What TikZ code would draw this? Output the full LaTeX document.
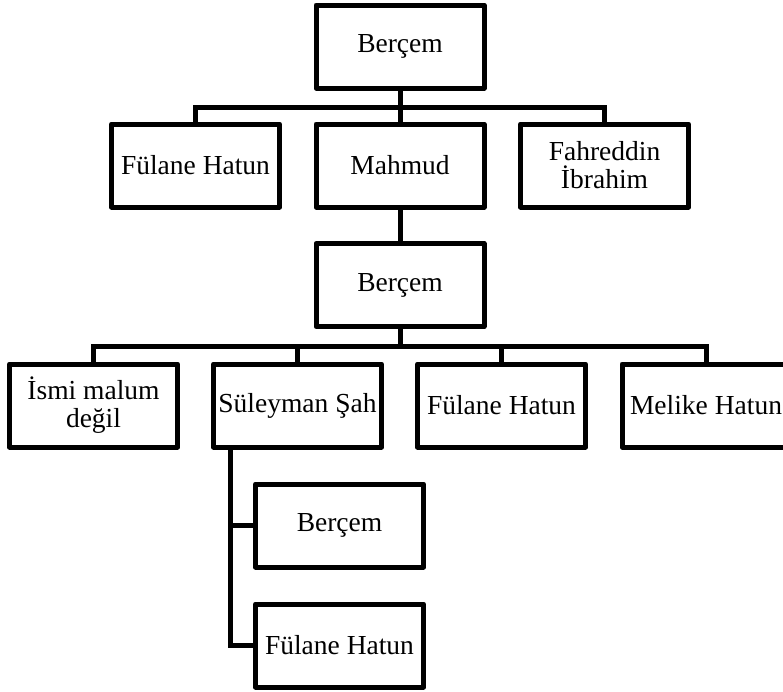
\documentclass[tikz,border=0pt]{standalone}
\usepackage{fontspec}
\setmainfont{Liberation Serif}
\begin{document}
\begin{tikzpicture}[x=1pt, y=-1pt,
    person/.style={draw, line width=5pt, line join=round, rectangle,
      minimum width=168pt, minimum height=83pt, inner sep=0pt,
      align=center, font=\fontsize{27.5}{28}\selectfont},
    link/.style={line width=5pt}]
    \useasboundingbox (0,0) rectangle (783,691);

    % First generation
    % ---------------------
    \node[person] (bercemA) at (400,46.5) {Berçem};
    \node[person] (fulaneA) at (195.5,165.5) {Fülane Hatun};
    \node[person] (mahmud) at (400,165.5) {Mahmud};
    \node[person] (fahreddin) at (604.5,165.5) {Fahreddin\\İbrahim};
    \coordinate (busA) at (400,107);
    \draw[link] (bercemA) -- (mahmud);
    \draw[link] (fulaneA.north) |- (busA) -| (fahreddin.north);

    % Second generation
    % ---------------------
    \node[person] (bercemB) at (400,285) {Berçem};
    \draw[link] (mahmud) -- (bercemB);
    \node[person] (ismi) at (93.5,405.5) {İsmi malum\\değil};
    \node[person] (suleyman) at (297.5,405.5) {Süleyman Şah};
    \node[person] (fulaneB) at (501.5,405.5) {Fülane Hatun};
    \node[person] (melike) at (706,405.5) {Melike Hatun};
    \coordinate (busB) at (400,346);
    \draw[link] (bercemB) -- (busB);
    \draw[link] (ismi.north) |- (busB) -| (melike.north);
    \draw[link] (suleyman.north) -- (suleyman.north |- busB);
    \draw[link] (fulaneB.north) -- (fulaneB.north |- busB);

    % Third generation
    % ---------------------
    \node[person] (bercemC) at (339.5,525.5) {Berçem};
    \node[person] (fulaneC) at (339.5,645.5) {Fülane Hatun};
    \coordinate (spine) at (230,447);
    \draw[link] (spine) |- (fulaneC.west);
    \draw[link] (spine |- bercemC.west) -- (bercemC.west);
\end{tikzpicture}
\end{document}
